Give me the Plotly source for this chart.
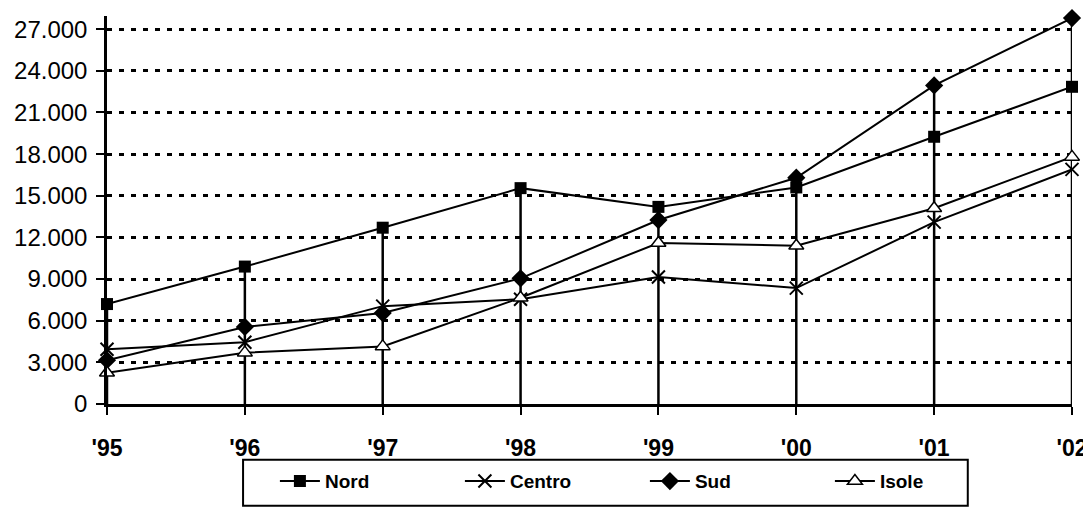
import plotly.graph_objects as go

years = ["'95", "'96", "'97", "'98", "'99", "'00", "'01", "'02"]
nord = [7200, 9900, 12700, 15550, 14200, 15600, 19250, 22850]
centro = [3950, 4450, 7050, 7550, 9150, 8350, 13100, 16900]
sud = [3150, 5550, 6550, 9050, 13250, 16300, 22950, 27800]
isole = [2250, 3700, 4150, 7650, 11600, 11400, 14100, 17800]
y_ticks = [0, 3000, 6000, 9000, 12000, 15000, 18000, 21000, 24000, 27000]

xs = list(range(len(years)))
fig = go.Figure()

# drop lines from the highest value of each year down to the axis
dx, dy = [], []
for i in xs:
    top = max(nord[i], centro[i], sud[i], isole[i])
    dx += [i, i, None]
    dy += [0, top, None]
fig.add_trace(go.Scatter(x=dx, y=dy, mode="lines", line=dict(color="black", width=2.5),
                         showlegend=False, hoverinfo="skip", cliponaxis=False))

series = [
    ("Nord", nord, dict(symbol="square", size=12, color="black")),
    ("Centro", centro, dict(symbol="x-thin", size=13, color="black", line=dict(width=2, color="black"))),
    ("Sud", sud, dict(symbol="diamond", size=14, color="black")),
    ("Isole", isole, dict(symbol="triangle-up", size=13, color="white", line=dict(width=1.5, color="black"))),
]
for name, vals, mk in series:
    fig.add_trace(go.Scatter(x=xs, y=vals, name=name, mode="lines+markers",
                             line=dict(color="black", width=2), marker=mk, cliponaxis=False))

# legend frame
fig.add_shape(type="rect", xref="paper", yref="paper", x0=0.141, x1=0.892, y0=-0.262, y1=-0.144,
              line=dict(color="black", width=2), fillcolor="white", layer="below")

fig.update_layout(
    width=1091, height=508,
    margin=dict(l=99, r=27, t=8, b=112),
    paper_bgcolor="white", plot_bgcolor="white",
    separators=",.",
    font=dict(family="Liberation Sans, Arial, sans-serif", color="black", size=18),
    legend=dict(orientation="h", x=0.174, xanchor="left", y=-0.15, yanchor="top",
                borderwidth=0, bgcolor="rgba(0,0,0,0)",
                font=dict(size=19, family="Liberation Sans, Arial, sans-serif", weight="bold"),
                entrywidth=130, entrywidthmode="pixels", itemwidth=40),
)
fig.update_xaxes(range=[0, 7], tickvals=xs, ticktext=years, showgrid=False, zeroline=False,
                 showline=True, linecolor="black", linewidth=2.5, automargin=False,
                 ticks="outside", ticklen=8, tickwidth=2, tickcolor="black",
                 ticklabelstandoff=14,
                 tickfont=dict(size=23, weight="bold"))
fig.update_yaxes(range=[0, 27950], tickvals=y_ticks, tickformat=",d", automargin=False,
                 showgrid=True, gridcolor="black", gridwidth=2.5, griddash="5px,7px",
                 zeroline=False, showline=True, linecolor="black", linewidth=2.5,
                 ticks="outside", ticklen=8, tickwidth=2, tickcolor="black",
                 ticklabelstandoff=4,
                 tickfont=dict(size=24))

fig.write_html("out.html")
